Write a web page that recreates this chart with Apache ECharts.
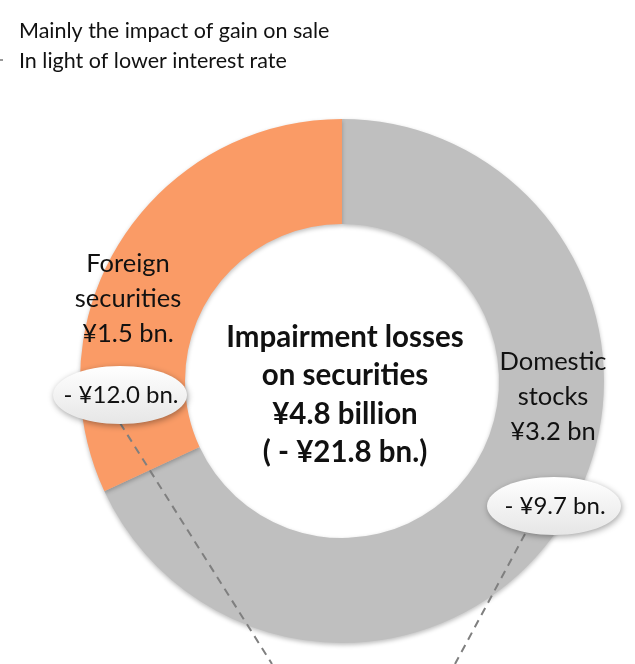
<!DOCTYPE html>
<html>
<head>
<meta charset="utf-8">
<script src="https://cdn.jsdelivr.net/npm/echarts@6/dist/echarts.min.js"></script>
<style>
  html, body { margin: 0; padding: 0; background: #fff; }
  #chart { width: 635px; height: 664px; }
</style>
</head>
<body>
<div id="chart"></div>
<script>
// slice data (clockwise from 12 o'clock)
const categories = ['Domestic\nstocks', 'Foreign\nsecurities'];
const amounts = [3.2, 1.5];
const amountText = ['¥3.2 bn', '¥1.5 bn.'];
const changes = ['- ¥9.7 bn.', '- ¥12.0 bn.'];
const colors = ['#BFBFBF', '#FA9B66'];
const notes = ['Mainly the impact of gain on sale', 'In light of lower interest rate'];
const centerLines = ['Impairment losses', 'on securities', '¥4.8 billion', '( - ¥21.8 bn.)'];

const FONT = 'Lato, "Open Sans", sans-serif';

// where each slice label sits, and its change bubble
const labelPos = [[553, 397], [128, 299]];
const bubblePos = [[554, 506], [120, 395]];
const leaderEnd = [[455, 664], [272, 664]];

const myChart = echarts.init(document.getElementById('chart'));

const bubbles = [];
changes.forEach((t, i) => {
  const [cx, cy] = bubblePos[i];
  bubbles.push({
    type: 'line', z: 50,
    shape: { x1: cx - (i === 0 ? 29 : 0), y1: cy + 28, x2: leaderEnd[i][0], y2: leaderEnd[i][1] },
    style: { stroke: '#7f7f7f', lineWidth: 2, lineDash: [8, 6] }
  });
  bubbles.push({
    type: 'ellipse', z: 60,
    shape: { cx: cx, cy: cy, rx: 67, ry: 29 },
    style: {
      fill: new echarts.graphic.LinearGradient(0, 0, 0, 1, [
        { offset: 0, color: '#ffffff' },
        { offset: 1, color: '#e6e6e6' }
      ]),
      shadowBlur: 6, shadowColor: 'rgba(0,0,0,0.35)', shadowOffsetX: 1, shadowOffsetY: 2
    }
  });
  bubbles.push({
    type: 'text', z: 61, x: cx + 1, y: cy,
    style: { text: t, font: '24px ' + FONT, fill: '#111', align: 'center', verticalAlign: 'middle' }
  });
});

const option = {
  animation: false,
  graphic: [
    {
      type: 'text', left: 19, top: 16,
      style: { text: notes.join('\n'), font: '21.5px ' + FONT, lineHeight: 30, fill: '#111' }
    },
    { type: 'rect', shape: { x: 0, y: 59, width: 3, height: 2 }, style: { fill: '#999' } },
    {
      type: 'text', z: 40, x: 345, y: 395,
      style: {
        text: centerLines.join('\n'), font: 'bold 29.5px ' + FONT, lineHeight: 38.5,
        fill: '#111', align: 'center', verticalAlign: 'middle'
      }
    }
  ].concat(bubbles),
  series: [{
    type: 'pie',
    center: [342, 381],
    radius: [157, 262],
    startAngle: 90,
    clockwise: true,
    silent: true,
    itemStyle: { shadowBlur: 4, shadowColor: 'rgba(0,0,0,0.25)', shadowOffsetY: 2 },
    label: {
      show: true, position: 'inside',
      formatter: p => categories[p.dataIndex] + '\n' + amountText[p.dataIndex],
      fontSize: 25.5, fontFamily: FONT, lineHeight: 35, color: '#111', align: 'center'
    },
    labelLine: { show: false },
    labelLayout: p => ({ x: labelPos[p.dataIndex][0], y: labelPos[p.dataIndex][1], align: 'center', verticalAlign: 'middle' }),
    data: amounts.map((v, i) => ({ value: v, name: categories[i], itemStyle: { color: colors[i] } }))
  }]
};

myChart.setOption(option);
</script>
</body>
</html>
